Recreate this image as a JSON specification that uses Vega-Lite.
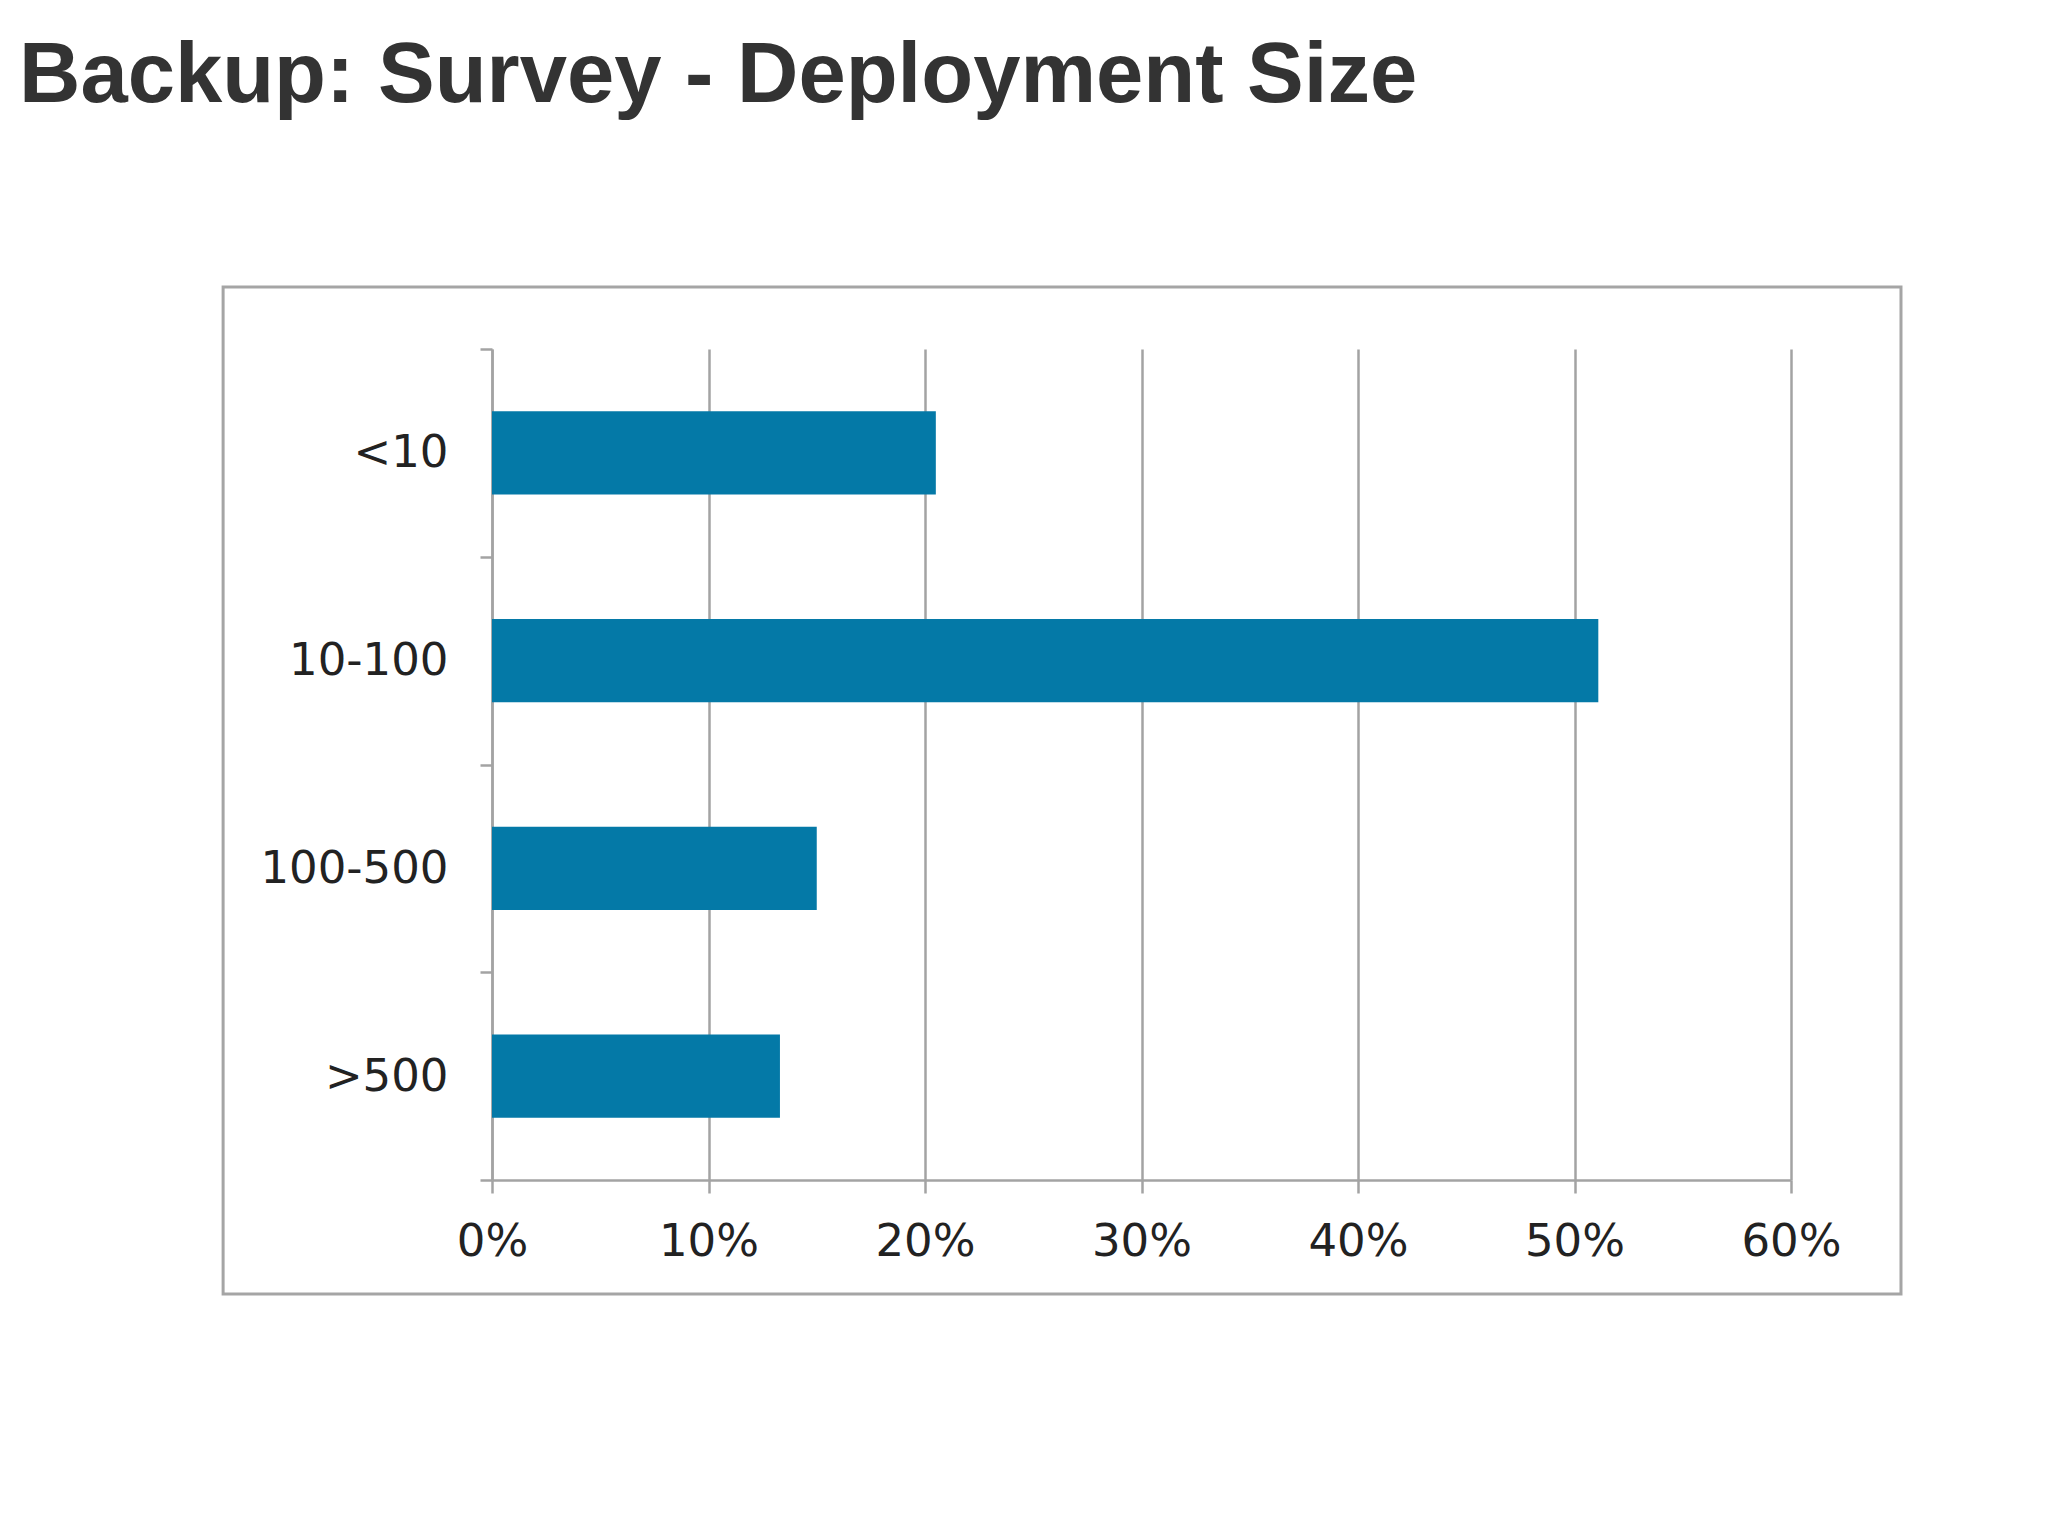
{
  "$schema": "https://vega.github.io/schema/vega-lite/v6.json",
  "width": 1299,
  "height": 831,
  "autosize": "none",
  "padding": {"left": 492, "top": 349, "right": 257, "bottom": 356},
  "background": "white",
  "title": {
    "text": "Backup: Survey - Deployment Size",
    "font": "Liberation Sans",
    "fontWeight": "bold",
    "fontSize": 85,
    "color": "#333333",
    "anchor": "start",
    "frame": "group",
    "dx": -473,
    "offset": 166
  },
  "config": {
    "font": "DejaVu Sans",
    "view": {"stroke": null}
  },
  "datasets": {
    "survey": [
      {"size": "<10", "pct": 20.5},
      {"size": "10-100", "pct": 51.1},
      {"size": "100-500", "pct": 15.0},
      {"size": ">500", "pct": 13.3}
    ],
    "frame": [{"left": -12.42, "right": 65.08, "top": 1.0746, "bottom": -0.1372}]
  },
  "layer": [
    {
      "data": {"name": "frame"},
      "mark": {"type": "rect", "fill": null, "stroke": "#a5a5a5", "strokeWidth": 3, "clip": false},
      "encoding": {
        "x": {"field": "left", "type": "quantitative"},
        "x2": {"field": "right"},
        "y": {"field": "top", "type": "quantitative", "scale": {"domain": [0, 1], "nice": false, "zero": false}, "axis": null},
        "y2": {"field": "bottom"}
      }
    },
    {
      "data": {"name": "survey"},
      "mark": {"type": "bar", "color": "#0479a7", "height": {"band": 0.4}},
      "encoding": {
        "y": {
          "field": "size",
          "type": "nominal",
          "sort": null,
          "scale": {"paddingInner": 0, "paddingOuter": 0},
          "axis": {
            "title": null,
            "tickBand": "extent",
            "tickSize": 12,
            "tickWidth": 2.5,
            "tickColor": "#a3a3a3",
            "domainColor": "#a3a3a3",
            "domainWidth": 2.5,
            "labelFontSize": 45,
            "labelColor": "#222222",
            "labelPadding": 32,
            "labelLimit": 400,
            "grid": false
          }
        },
        "x": {
          "field": "pct",
          "type": "quantitative",
          "scale": {"domain": [0, 60], "nice": false},
          "axis": {
            "title": null,
            "values": [0, 10, 20, 30, 40, 50, 60],
            "labelExpr": "datum.value + '%'",
            "labelFlush": false,
            "labelFontSize": 45,
            "labelColor": "#222222",
            "labelPadding": 26,
            "tickSize": 13,
            "tickWidth": 2.5,
            "tickColor": "#a3a3a3",
            "domainColor": "#a3a3a3",
            "domainWidth": 2.5,
            "grid": true,
            "gridColor": "#a3a3a3",
            "gridWidth": 2.5,
            "gridOpacity": 1
          }
        }
      }
    }
  ],
  "resolve": {"scale": {"y": "independent"}, "axis": {"y": "independent"}}
}
